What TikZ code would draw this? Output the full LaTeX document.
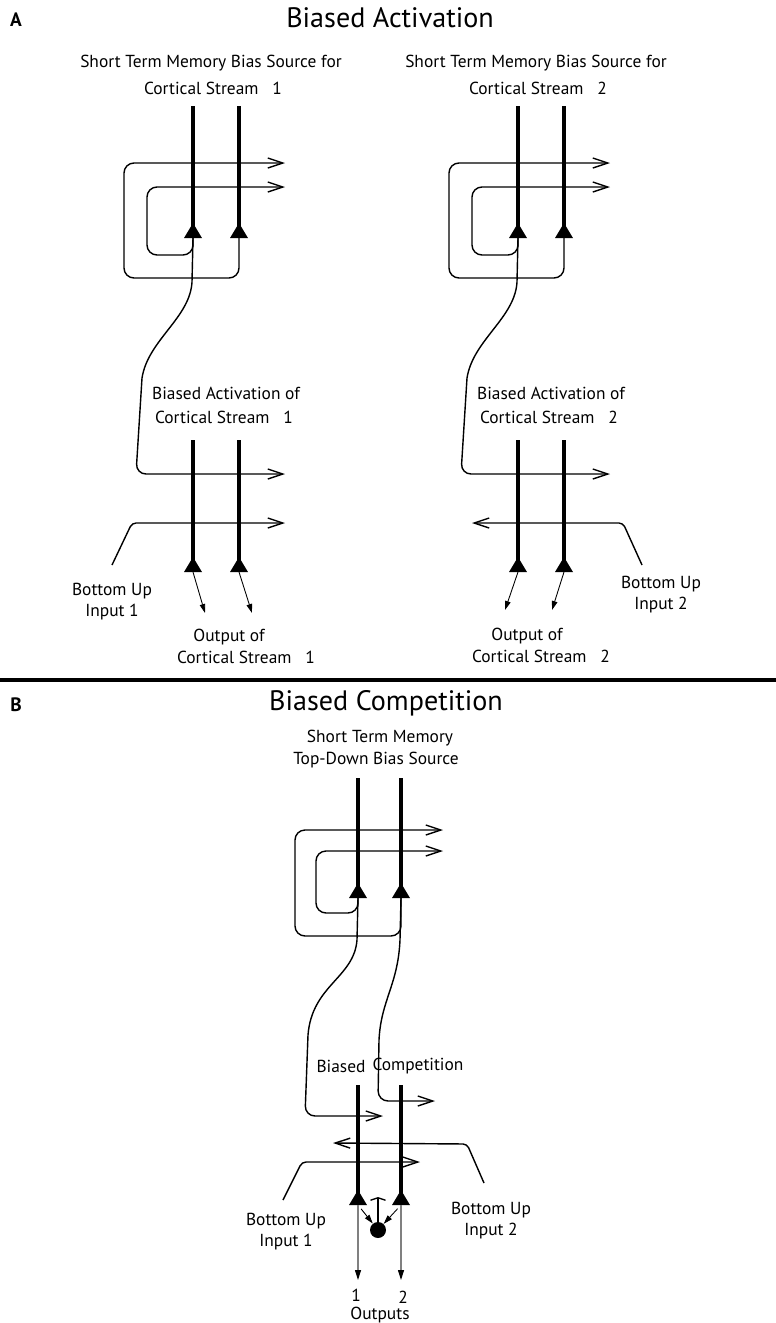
\documentclass[tikz,border=0pt]{standalone}
\usepackage{fontspec}
\setmainfont{PT Sans}
\usetikzlibrary{arrows.meta}

\newcommand\soma[1]{\fill (#1) ++(-9,0) -- ++(18,0) -- ++(-9,-15) -- cycle;}

\begin{document}
\begin{tikzpicture}[x=0.02cm,y=-0.02cm,
	fibre/.style={line width=0.8pt},
	axon/.style={line width=2.4pt},
	fb/.style={fibre,-{Straight Barb[length=3mm,width=2mm]}},
	outarrow/.style={line width=0.5pt,-{Triangle[length=1.8mm,width=1.1mm]}},
	gout/.style={gray,line width=0.6pt,-{Triangle[length=2mm,width=1.2mm,color=black]}},
	lbl/.style={font=\fontsize{9.9}{12}\selectfont,inner sep=0pt,align=center},
	ttl/.style={font=\fontsize{16}{19}\selectfont,inner sep=0pt},
	tag/.style={font=\bfseries\fontsize{11}{13}\selectfont,inner sep=0pt}]
	\useasboundingbox (0,0) rectangle (776,1323);

	% A : biased activation
	\node[tag] (tagA) at (16,20) {A};
	\node[ttl] (titA) at (390,18) {Biased Activation};
	\foreach \dx/\n in {0/1,325/2}{
	\begin{scope}[shift={(\dx,0)}]
		\node[lbl] (stm\n) at (211,63) {Short Term Memory Bias Source for};
		\node[lbl] (stmc\n) at (213,88) {Cortical Stream\ \ \ \n};
		\coordinate (p\n) at (193,238); \coordinate (q\n) at (239,238);
		\draw[axon] (193,106) -- (p\n);
		\draw[axon] (239,106) -- (q\n);
		\soma{p\n} \soma{q\n}
		\draw[fb,rounded corners=0.2cm] (q\n) -- (239,278) -- (124,278) -- (124,163) -- (285,163); % outer loop
		\draw[fb,rounded corners=0.2cm] (p\n) -- (193,255) -- (147,255) -- (147,187) -- (285,187); % inner loop
		\node[lbl] (ba\n) at (226,393) {Biased Activation of};
		\node[lbl] (bac\n) at (224,417) {Cortical Stream\ \ \ \n};
		\coordinate (r\n) at (193,572); \coordinate (s\n) at (239,572);
		\draw[axon] (193,440) -- (r\n);
		\draw[axon] (239,440) -- (s\n);
		\soma{r\n} \soma{s\n}
		\draw[fb] (p\n) -- (192,282) .. controls (190,318) and (148,340) .. (142,378) [rounded corners=0.2cm] -- (136,474) -- (285,474); % bias
	\end{scope}}
	\draw[fb,rounded corners=0.08cm] (112,565) -- (132,523) -- (285,523); % input 1
	\draw[fb,rounded corners=0.08cm] (642,565) -- (623,523) -- (472,523); % input 2
	\draw[outarrow] (r1) -- (205,613);
	\draw[outarrow] (s1) -- (252,613);
	\draw[outarrow] (r2) -- (505,610);
	\draw[outarrow] (s2) -- (552,610);
	\node[lbl] (bu1) at (112,602) {Bottom Up\\Input 1};
	\node[lbl] (bu2) at (661,595) {Bottom Up\\Input 2};
	\node[lbl] (oo1) at (229,637) {Output of};
	\node[lbl] (ooc1) at (246,657) {Cortical Stream\ \ \ 1};
	\node[lbl] (oo2) at (527,636) {Output of};
	\node[lbl] (ooc2) at (541,656) {Cortical Stream\ \ \ 2};

	\draw[line width=2.3pt] (0,680) -- (776,680); % separation

	% B : biased competition
	\node[tag] (tagB) at (16,705) {B};
	\node[ttl] (titB) at (386,703) {Biased Competition};
	\node[lbl] (stmB) at (380,738) {Short Term Memory};
	\node[lbl] (tdB) at (376,760) {Top-Down Bias Source};
	\coordinate (u) at (358,898); \coordinate (v) at (401,898);
	\draw[axon] (358,778) -- (u);
	\draw[axon] (401,778) -- (v);
	\soma{u} \soma{v}
	\draw[fb,rounded corners=0.2cm] (v) -- (401,936) -- (295,936) -- (295,830) -- (443,830); % outer loop
	\draw[fb,rounded corners=0.2cm] (u) -- (358,913) -- (316,913) -- (316,851) -- (443,851); % inner loop
	\draw[fb] (u) -- (357,940) .. controls (354,978) and (312,985) .. (308,1035) [rounded corners=0.2cm] -- (305,1116) -- (383,1116);
	\draw[fb] (v) -- (400,940) .. controls (398,985) and (381,1000) .. (379,1040) [rounded corners=0.2cm] -- (378,1101) -- (435,1101);
	\node[lbl] (bsd) at (341,1066) {Biased};
	\node[lbl] (cmp) at (418,1066) {Competition};
	\coordinate (w) at (358,1205); \coordinate (z) at (401,1205);
	\draw[axon] (358,1085) -- (w);
	\draw[axon] (401,1085) -- (z);
	\soma{w} \soma{z}
	\draw[fb,rounded corners=0.08cm] (484,1183) -- (467,1144) -- (333,1143); % input 2
	\draw[fb,rounded corners=0.08cm] (283,1200) -- (302,1162) -- (420,1162); % input 1
	\node[circle,fill,inner sep=0pt,minimum size=0.32cm] (dot) at (378,1230) {};
	\draw[outarrow,shorten <=1mm] (w) -- (dot);
	\draw[outarrow,shorten <=1mm] (z) -- (dot);
	\draw[fibre,-{Straight Barb[length=0.5mm,width=3mm]}] (dot) -- (378,1197); % inhibition
	\draw[gout] (w) -- (358,1280);
	\draw[gout] (z) -- (401,1280);
	\node[lbl] (bu3) at (286,1232) {Bottom Up\\Input 1};
	\node[lbl] (bu4) at (491,1221) {Bottom Up\\Input 2};
	\node[lbl] (o1) at (356,1295) {1};
	\node[lbl] (o2) at (403,1297) {2};
	\node[lbl] (outs) at (380,1315) {Outputs};
\end{tikzpicture}
\end{document}
